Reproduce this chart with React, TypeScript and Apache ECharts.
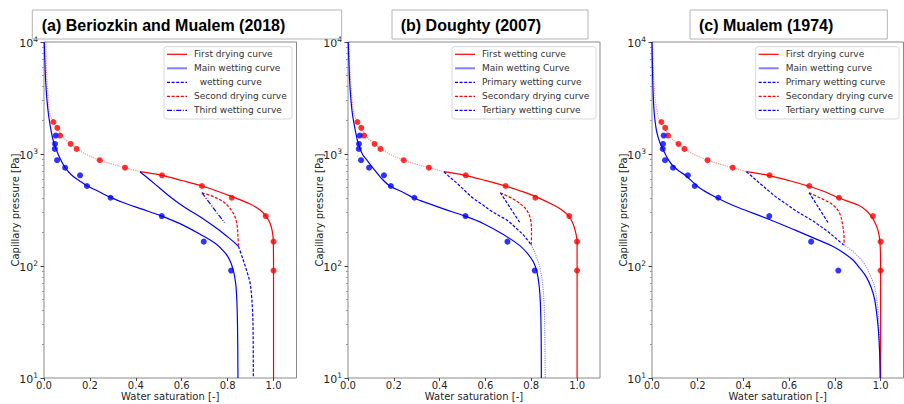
import React, { useEffect, useRef } from 'react';
import * as echarts from 'echarts';

// ---------- measured data (shared by all panels) ----------
const dryDataS = [0.041, 0.058, 0.070, 0.116, 0.142, 0.243, 0.353, 0.514, 0.688, 0.818, 0.966, 1.0, 1.0];
const dryDataP = [1930, 1710, 1460, 1230, 1110, 880, 755, 645, 518, 407, 279, 165, 91];
const wetDataS = [0.051, 0.048, 0.047, 0.057, 0.092, 0.157, 0.187, 0.290, 0.513, 0.696, 0.815];
const wetDataP = [1460, 1230, 1110, 880, 755, 645, 518, 407, 279, 165, 91];

// ---------- panel (a) curves ----------
const aMainDryS = [0.008, 0.010, 0.013, 0.018, 0.026, 0.041, 0.058, 0.075, 0.095, 0.116, 0.142, 0.19, 0.243, 0.30, 0.353, 0.418];
const aMainDryP = [10000, 6500, 4600, 3250, 2300, 1930, 1700, 1480, 1330, 1230, 1110, 980, 880, 810, 755, 695];
const aFirstDryS = [0.418, 0.514, 0.60, 0.688, 0.75, 0.819, 0.898, 0.941, 0.967, 0.985, 0.995, 0.999, 1.0, 1.0];
const aFirstDryP = [695, 645, 580, 518, 470, 416, 358, 316, 279, 241, 202, 165, 91, 10];
const aMainWetS = [0.001, 0.004, 0.007, 0.012, 0.019, 0.030, 0.041, 0.052, 0.062, 0.075, 0.092, 0.12, 0.155, 0.187, 0.24, 0.29, 0.35, 0.42, 0.513, 0.59, 0.68, 0.75, 0.79, 0.81, 0.825, 0.835, 0.840, 0.843, 0.845];
const aMainWetP = [10000, 6500, 4600, 3200, 2300, 1650, 1300, 1120, 990, 870, 755, 650, 575, 520, 460, 410, 365, 325, 279, 240, 192, 157, 130, 112, 91, 70, 50, 30, 10];
const aPrimWetS = [0.418, 0.462, 0.505, 0.556, 0.614, 0.680, 0.752, 0.80, 0.825, 0.847];
const aPrimWetP = [695, 586, 494, 405, 333, 275, 217, 182, 165, 150];
const aPrimTailS = [0.847, 0.868, 0.885, 0.898, 0.905, 0.909, 0.911, 0.912];
const aPrimTailP = [150, 113, 88, 70, 52, 38, 25, 10];
const aSecDryS = [0.688, 0.738, 0.781, 0.810, 0.832, 0.842, 0.845, 0.847];
const aSecDryP = [451, 416, 375, 327, 275, 224, 183, 152];
const aThirdWetS = [0.688, 0.737, 0.786];
const aThirdWetP = [451, 331, 244];

// ---------- panel (b) curves ----------
const bMainDryS = [0.004, 0.007, 0.011, 0.017, 0.026, 0.041, 0.058, 0.075, 0.095, 0.116, 0.142, 0.19, 0.243, 0.30, 0.353, 0.419];
const bMainDryP = [10000, 6500, 4600, 3250, 2300, 1930, 1700, 1480, 1330, 1230, 1110, 980, 880, 810, 755, 695];
const bFirstWetS = [0.419, 0.511, 0.60, 0.687, 0.75, 0.819, 0.897, 0.935, 0.964, 0.980, 0.991, 1.0, 1.0, 1.0];
const bFirstWetP = [695, 645, 580, 518, 470, 416, 350, 315, 279, 245, 210, 165, 91, 10];
const bMainWetS = [0.001, 0.004, 0.007, 0.012, 0.019, 0.030, 0.040, 0.052, 0.065, 0.082, 0.11, 0.145, 0.183, 0.24, 0.285, 0.35, 0.42, 0.511, 0.59, 0.68, 0.75, 0.785, 0.81, 0.825, 0.835, 0.840, 0.843, 0.844];
const bMainWetP = [10000, 6500, 4600, 3200, 2300, 1700, 1350, 1120, 980, 885, 745, 610, 518, 455, 407, 362, 322, 279, 240, 190, 152, 128, 108, 88, 65, 45, 25, 10];
const bPrimWetS = [0.419, 0.445, 0.475, 0.51, 0.545, 0.585, 0.62, 0.664, 0.693, 0.74, 0.77, 0.799];
const bPrimWetP = [695, 620, 550, 470, 405, 355, 315, 278, 258, 212, 185, 155];
const bPrimTailS = [0.799, 0.815, 0.828, 0.840, 0.850, 0.856, 0.859, 0.861];
const bPrimTailP = [155, 132, 112, 92, 68, 45, 25, 10];
const bSecDryS = [0.665, 0.722, 0.766, 0.786, 0.797, 0.801, 0.800];
const bSecDryP = [451, 395, 340, 300, 260, 205, 155];
const bTertWetS = [0.665, 0.708, 0.750];
const bTertWetP = [451, 331, 244];

// ---------- panel (c) curves ----------
const cMainDryS = [0.002, 0.005, 0.009, 0.015, 0.024, 0.036, 0.055, 0.072, 0.093, 0.114, 0.140, 0.19, 0.243, 0.30, 0.353, 0.413];
const cMainDryP = [10000, 6000, 4200, 3000, 2300, 1930, 1700, 1480, 1330, 1230, 1110, 980, 880, 810, 755, 695];
const cFirstDryS = [0.413, 0.508, 0.60, 0.683, 0.75, 0.814, 0.901, 0.935, 0.959, 0.975, 0.988, 0.997, 1.0, 1.0];
const cFirstDryP = [695, 645, 578, 518, 465, 407, 350, 315, 279, 245, 210, 165, 91, 10];
const cMainWetS = [0.000, 0.002, 0.005, 0.010, 0.020, 0.035, 0.05, 0.07, 0.09, 0.12, 0.148, 0.21, 0.284, 0.35, 0.406, 0.508, 0.624, 0.726, 0.79, 0.84, 0.879, 0.91, 0.937, 0.959, 0.974, 0.988, 0.995, 0.998];
const cMainWetP = [10000, 6000, 3500, 2300, 1600, 1250, 1080, 900, 790, 700, 640, 495, 407, 350, 316, 263, 210, 171, 150, 130, 113, 95, 80, 64, 50, 30, 18, 10];
const cPrimWetS = [0.413, 0.445, 0.479, 0.515, 0.552, 0.59, 0.624, 0.66, 0.697, 0.735, 0.770, 0.805, 0.838];
const cPrimWetP = [695, 610, 531, 460, 400, 355, 316, 285, 258, 228, 202, 176, 154];
const cPrimTailS = [0.838, 0.88, 0.93, 0.955, 0.974, 0.988, 0.995, 0.998];
const cPrimTailP = [154, 134, 104, 82, 65, 41, 22, 10];
const cSecDryS = [0.687, 0.741, 0.792, 0.821, 0.835, 0.840, 0.840];
const cSecDryP = [451, 400, 350, 295, 224, 180, 154];
const cTertWetS = [0.687, 0.729, 0.770];
const cTertWetP = [451, 331, 244];

// ---------- ticks & texts ----------
const xTicks = [0, 0.2, 0.4, 0.6, 0.8, 1.0];
const yTicks = [10, 100, 1000, 10000];
const yMinorTicks = [20, 30, 40, 50, 60, 70, 80, 90, 200, 300, 400, 500, 600, 700, 800, 900, 2000, 3000, 4000, 5000, 6000, 7000, 8000, 9000];
const panelTitles = ['(a) Beriozkin and Mualem (2018)', '(b) Doughty (2007)', '(c) Mualem (1974)'];
const legendA = ['First drying curve', 'Main wetting curve', '  wetting curve', 'Second drying curve', 'Third wetting curve'];
const legendB = ['First wetting curve', 'Main wetting Curve', 'Primary wetting curve', 'Secondary drying curve', 'Tertiary wetting curve'];
const legendC = ['First drying curve', 'Main wetting curve', 'Primary wetting curve', 'Secondary drying curve', 'Tertiary wetting curve'];
const xName = 'Water saturation [-]';
const yName = 'Capillary pressure [Pa]';

// ---------- styles ----------
const RED = '#ff0000';
const BLUE = '#0000ff';
const DASH = [3, 1.6];
const DOT = [1.1, 1.2];
const DASHDOT = [5, 1.6, 1, 1.6];
const TXT = '#262626';
const FONT = '"DejaVu Sans", sans-serif';
const LW = 1.2;

type St = { color: string; dash: any; width: number; opacity: number };
const redSolid: St = { color: RED, dash: 'solid', width: LW, opacity: 1 };
const blueSolid: St = { color: BLUE, dash: 'solid', width: LW, opacity: 1 };
const mainWetLegend: St = { color: BLUE, dash: 'solid', width: 2, opacity: 0.5 };
const blueDash: St = { color: BLUE, dash: DASH, width: LW, opacity: 1 };
const redDash: St = { color: RED, dash: DASH, width: LW, opacity: 1 };
const blueDashDot: St = { color: BLUE, dash: DASHDOT, width: LW, opacity: 1 };
const redDot: St = { color: RED, dash: DOT, width: 1.1, opacity: 0.5 };
const blueDot: St = { color: BLUE, dash: DOT, width: 1.1, opacity: 0.5 };

const panels = [
  {
    left: 44, width: 252.5, titleBox: [32.3, 341.7], titleX: 41.7, legX: 164, legW: 128,
    legend: legendA, legStyles: [redSolid, mainWetLegend, blueDash, redDash, blueDashDot],
    curves: [
      [aMainDryS, aMainDryP, redDot], [aFirstDryS, aFirstDryP, redSolid], [aMainWetS, aMainWetP, blueSolid],
      [aPrimWetS, aPrimWetP, blueSolid], [aPrimTailS, aPrimTailP, blueDash], [aSecDryS, aSecDryP, redDash],
      [aThirdWetS, aThirdWetP, blueDashDot],
    ],
  },
  {
    left: 348, width: 252, titleBox: [392, 588], titleX: 400.7, legX: 452, legW: 144,
    legend: legendB, legStyles: [redSolid, mainWetLegend, blueDash, redDash, blueDash],
    curves: [
      [bMainDryS, bMainDryP, redDot], [bFirstWetS, bFirstWetP, redSolid], [bMainWetS, bMainWetP, blueSolid],
      [bPrimWetS, bPrimWetP, blueDash], [bPrimTailS, bPrimTailP, blueDot], [bSecDryS, bSecDryP, redDash],
      [bTertWetS, bTertWetP, blueDash],
    ],
  },
  {
    left: 652, width: 251.5, titleBox: [690, 887.3], titleX: 699, legX: 755.7, legW: 143.3,
    legend: legendC, legStyles: [redSolid, mainWetLegend, blueDash, redDash, blueDash],
    curves: [
      [cMainDryS, cMainDryP, redDot], [cFirstDryS, cFirstDryP, redSolid], [cMainWetS, cMainWetP, blueSolid],
      [cPrimWetS, cPrimWetP, blueDash], [cPrimTailS, cPrimTailP, blueDot], [cSecDryS, cSecDryP, redDash],
      [cTertWetS, cTertWetP, blueDash],
    ],
  },
];

const zip = (s: number[], p: number[]) => s.map((v, i) => [v, p[i]]);

function buildOption() {
  const grid: any[] = [];
  const xAxis: any[] = [];
  const yAxis: any[] = [];
  const series: any[] = [];
  const graphic: any[] = [];

  panels.forEach((pn, g) => {
    grid.push({
      left: pn.left, top: 42, width: pn.width, height: 336, show: true, borderColor: '#8a8a8a', borderWidth: 1,
      backgroundColor: 'transparent', containLabel: false, outerBoundsMode: 'none',
    });
    xAxis.push({
      type: 'value', gridIndex: g, min: 0, max: 1.1,
      axisLine: { show: false }, splitLine: { show: false },
      axisTick: { show: true, length: 3, customValues: xTicks, lineStyle: { color: '#444' } },
      axisLabel: { customValues: xTicks, margin: 2, color: TXT, fontSize: 10, fontFamily: FONT, formatter: (v: number) => v.toFixed(1) },
      name: xName, nameLocation: 'middle', nameGap: 13, nameMoveOverlap: false,
      nameTextStyle: { color: TXT, fontSize: 10, fontFamily: FONT },
    });
    yAxis.push({
      type: 'log', logBase: 10, gridIndex: g, min: 10, max: 10000, position: 'left',
      axisLine: { show: false }, splitLine: { show: false },
      axisTick: { show: true, length: 3.5, customValues: yTicks, lineStyle: { color: '#444' } },
      axisLabel: {
        customValues: yTicks, margin: 6, fontFamily: FONT,
        formatter: (v: number) => `{b|10}{s|${Math.round(Math.log10(v))}}`,
        rich: {
          b: { fontSize: 11, color: TXT, fontFamily: FONT, verticalAlign: 'bottom' },
          s: { fontSize: 7.5, color: TXT, fontFamily: FONT, verticalAlign: 'bottom', padding: [0, 0, 5, 0] },
        },
      },
      name: yName, nameLocation: 'middle', nameGap: 24, nameMoveOverlap: false,
      nameTextStyle: { color: TXT, fontSize: 10, fontFamily: FONT },
    });
    yAxis.push({
      type: 'log', logBase: 10, gridIndex: g, min: 10, max: 10000, position: 'left', offset: 0,
      axisLine: { show: false }, splitLine: { show: false }, axisLabel: { show: false },
      axisTick: { show: true, length: 2, customValues: yMinorTicks, lineStyle: { color: '#9a9a9a' } },
    });

    pn.curves.forEach((c: any, k: number) => {
      const st: St = c[2];
      series.push({
        type: 'line', name: `p${g}c${k}`, xAxisIndex: g, yAxisIndex: 2 * g,
        data: zip(c[0], c[1]), symbol: 'none', showSymbol: false, smooth: 0.35, silent: true, z: 2,
        lineStyle: { color: st.color, width: st.width, type: st.dash, opacity: st.opacity },
      });
    });
    series.push({
      type: 'scatter', name: `p${g}dry`, xAxisIndex: g, yAxisIndex: 2 * g, data: zip(dryDataS, dryDataP),
      symbol: 'circle', symbolSize: 6, itemStyle: { color: RED }, z: 4, silent: true,
    });
    series.push({
      type: 'scatter', name: `p${g}wet`, xAxisIndex: g, yAxisIndex: 2 * g, data: zip(wetDataS, wetDataP),
      symbol: 'circle', symbolSize: 6, itemStyle: { color: BLUE }, z: 4, silent: true,
    });

    // title box
    graphic.push({
      type: 'rect', shape: { x: pn.titleBox[0], y: 10, width: pn.titleBox[1] - pn.titleBox[0], height: 29 },
      style: { fill: 'none', stroke: '#b4b4b4', lineWidth: 1 }, z: 1,
    });
    graphic.push({
      type: 'text', x: pn.titleX, y: 25, z: 11,
      style: { text: panelTitles[g], font: `bold 16px "Liberation Sans", Arial, sans-serif`, fill: '#000', textAlign: 'left', textVerticalAlign: 'middle' },
    });
    // legend
    graphic.push({
      type: 'rect', shape: { x: pn.legX, y: 46.7, width: pn.legW, height: 72.3, r: 2.5 },
      style: { fill: 'rgba(255,255,255,0.85)', stroke: '#d9d9d9', lineWidth: 1 }, z: 10,
    });
    pn.legend.forEach((label: string, i: number) => {
      const st: St = pn.legStyles[i];
      const cy = 54.3 + 14 * i;
      graphic.push({
        type: 'line', z: 11, shape: { x1: pn.legX + 3, y1: cy, x2: pn.legX + 23, y2: cy },
        style: { stroke: st.color, lineWidth: st.width, lineDash: st.dash === 'solid' ? null : st.dash, opacity: st.opacity },
      });
      graphic.push({
        type: 'text', x: pn.legX + 30, y: cy, z: 11,
        style: { text: label, font: `9px ${FONT}`, fill: '#333', textAlign: 'left', textVerticalAlign: 'middle' },
      });
    });
  });

  return {
    animation: false,
    backgroundColor: '#ffffff',
    textStyle: { fontFamily: FONT },
    grid, xAxis, yAxis, series, graphic,
  };
}

export default function App() {
  const ref = useRef<HTMLDivElement>(null);
  useEffect(() => {
    if (!ref.current) return;
    const chart = echarts.init(ref.current, undefined, { renderer: 'svg' });
    chart.setOption(buildOption() as any);
    return () => chart.dispose();
  }, []);
  return <div ref={ref} style={{ position: 'absolute', left: 0, top: 0, width: 904, height: 404 }} />;
}
